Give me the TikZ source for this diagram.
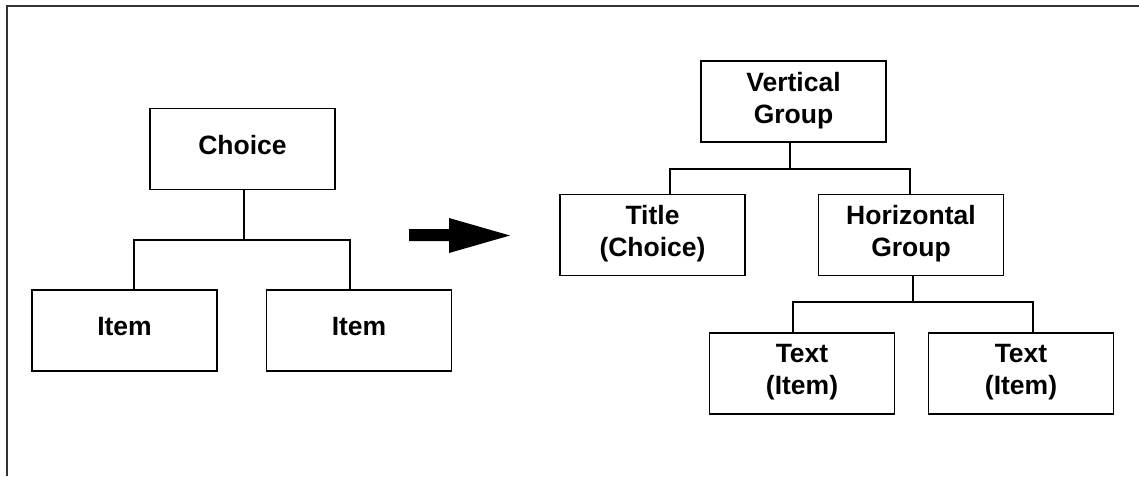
\documentclass[tikz,border=0pt]{standalone}
\usepackage{fontspec}
\setmainfont{Liberation Sans}
\begin{document}
\newcommand\depthpad{\rule[-8pt]{0pt}{8pt}}
\begin{tikzpicture}[x=1pt,y=-1pt,
  treebox/.style={draw=black,line width=1.5pt,minimum width=185pt,minimum height=81pt,
    inner sep=0pt,align=center,font=\fontsize{26.5}{31.8}\selectfont\bfseries},
  wire/.style={draw=black,line width=1.3pt}]
  \useasboundingbox (0,0) rectangle (1139,476);
  % frame: only the top and left edges are drawn
  \draw[line width=2.2pt,draw=black!80] (7,476) -- (7,6) -- (1139,6);

  % left tree
  \node[treebox] (choice) at (242.5,149) {Choice\depthpad};
  \node[treebox] (item1)  at (124.5,330.5) {Item\depthpad};
  \node[treebox] (item2)  at (359,330.5) {Item\depthpad};
  \coordinate (lbus) at (244,240);
  \draw[wire] (choice.south -| lbus) -- (lbus);
  \draw[wire] ([xshift=9.5pt]item1.north) |- (lbus) -| ([xshift=-9pt]item2.north);

  % transformation arrow
  \fill[black] (409,229) -- (449,229) -- (449,218) -- (510,235.5) -- (449,253)
    -- (449,241) -- (409,241) -- cycle;

  % right tree
  \node[treebox] (vg)    at (793.5,101.5) {Vertical\\Group\depthpad};
  \node[treebox] (title) at (652.5,235) {Title\\(Choice)\depthpad};
  \node[treebox] (hg)    at (911,235) {Horizontal\\Group\depthpad};
  \node[treebox] (text1) at (802,373.5) {Text\\(Item)\depthpad};
  \node[treebox] (text2) at (1021,373.5) {Text\\(Item)\depthpad};

  \coordinate (rbus) at (790,169);
  \draw[wire] (vg.south -| rbus) -- (rbus);
  \draw[wire] ([xshift=17.5pt]title.north) |- (rbus) -| ([xshift=-1pt]hg.north);

  \coordinate (hbus) at (913,302);
  \draw[wire] (hg.south -| hbus) -- (hbus);
  \draw[wire] ([xshift=-9pt]text1.north) |- (hbus) -| ([xshift=12pt]text2.north);
\end{tikzpicture}
\end{document}
